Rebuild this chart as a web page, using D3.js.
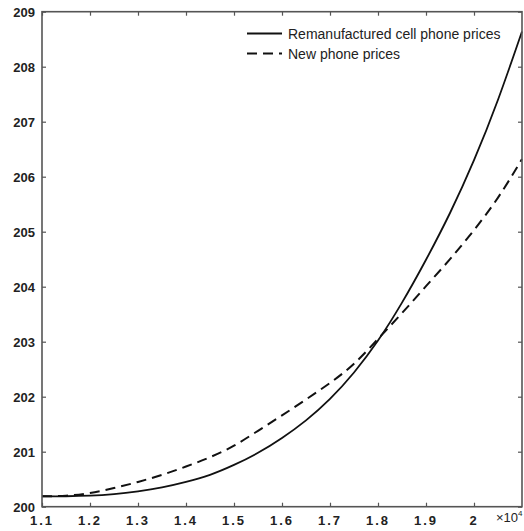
<!DOCTYPE html>
<html>
<head>
<meta charset="utf-8">
<script src="https://cdn.jsdelivr.net/npm/d3@7"></script>
<style>
  body { margin: 0; background: #fff; }
  svg { display: block; }
  text { font-family: "Liberation Sans", Arial, sans-serif; fill: #222; }
</style>
</head>
<body>
<div id="chart"></div>
<script>
// x values are in units of 10^4
const xs = [1.10, 1.15, 1.20, 1.25, 1.30, 1.35, 1.40, 1.45, 1.50, 1.55, 1.60,
            1.65, 1.70, 1.75, 1.80, 1.85, 1.90, 1.95, 2.00, 2.05, 2.10];
const remanufactured = [200.19, 200.19, 200.20, 200.23, 200.28, 200.35, 200.45, 200.58, 200.76, 200.98, 201.25,
                        201.57, 201.96, 202.44, 203.02, 203.71, 204.49, 205.34, 206.30, 207.40, 208.64];
const newPhone = [200.19, 200.20, 200.25, 200.34, 200.45, 200.58, 200.73, 200.90, 201.11, 201.38, 201.66,
                  201.95, 202.25, 202.60, 203.05, 203.52, 204.01, 204.50, 205.03, 205.62, 206.32];
const xTicks = [1.1, 1.2, 1.3, 1.4, 1.5, 1.6, 1.7, 1.8, 1.9, 2.0];
const yTicks = [200, 201, 202, 203, 204, 205, 206, 207, 208, 209];
const legendLabels = ["Remanufactured cell phone prices", "New phone prices"];

const width = 524, height = 531;
const pLeft = 42, pRight = 522, pTop = 11.7, pBottom = 506.7;

const svg = d3.select("#chart").append("svg")
    .attr("width", width)
    .attr("height", height);

const x = d3.scaleLinear().domain([1.1, 2.1]).range([pLeft, pRight]);
const y = d3.scaleLinear().domain([200, 209]).range([pBottom, pTop]);

// curves
const line = d3.line()
    .x((d, i) => x(xs[i]))
    .y(d => y(d))
    .curve(d3.curveNatural);

svg.append("path")
    .datum(remanufactured)
    .attr("d", line)
    .attr("fill", "none")
    .attr("stroke", "#111")
    .attr("stroke-width", 1.8);

svg.append("path")
    .datum(newPhone)
    .attr("d", line)
    .attr("fill", "none")
    .attr("stroke", "#111")
    .attr("stroke-width", 2)
    .attr("stroke-dasharray", "10,6");

// ticks pointing inward on all four sides
const tickLen = 4;
const tickColor = "#555";
svg.append("g").call(d3.axisBottom(x).tickValues(xTicks).tickSize(-tickLen).tickFormat(""))
    .attr("transform", `translate(0,${pBottom})`);
svg.append("g").call(d3.axisTop(x).tickValues(xTicks).tickSize(-tickLen).tickFormat(""))
    .attr("transform", `translate(0,${pTop})`);
svg.append("g").call(d3.axisLeft(y).tickValues(yTicks).tickSize(-tickLen).tickFormat(""))
    .attr("transform", `translate(${pLeft},0)`);
svg.append("g").call(d3.axisRight(y).tickValues(yTicks).tickSize(-tickLen).tickFormat(""))
    .attr("transform", `translate(${pRight},0)`);
svg.selectAll(".domain").remove();
svg.selectAll(".tick line").attr("stroke", tickColor).attr("stroke-width", 1.2);

// frame
svg.append("rect")
    .attr("x", pLeft).attr("y", pTop)
    .attr("width", pRight - pLeft).attr("height", pBottom - pTop)
    .attr("fill", "none")
    .attr("stroke", "#555")
    .attr("stroke-width", 1.6);

// tick labels
svg.append("g").selectAll("text")
    .data(yTicks)
    .join("text")
    .attr("x", 35)
    .attr("y", d => y(d) + 5)
    .attr("text-anchor", "end")
    .attr("font-size", 13)
    .attr("font-weight", "bold")
    .text(d => d);

svg.append("g").selectAll("text")
    .data(xTicks)
    .join("text")
    .attr("x", d => x(d))
    .attr("y", 525)
    .attr("text-anchor", "middle")
    .attr("font-size", 13)
    .attr("font-weight", "bold")
    .attr("letter-spacing", 2)
    .text(d => d3.format("")(d));

const mult = svg.append("text")
    .attr("x", 496)
    .attr("y", 522)
    .attr("font-size", 13);
mult.append("tspan").text("\u00d710");
mult.append("tspan").attr("dy", -6).attr("font-size", 8).text("4");

// legend
const legend = svg.append("g");
legendLabels.forEach((lab, i) => {
    const ly = 33.5 + i * 20;
    legend.append("line")
        .attr("x1", 247).attr("x2", 282)
        .attr("y1", ly).attr("y2", ly)
        .attr("stroke", "#111")
        .attr("stroke-width", 2)
        .attr("stroke-dasharray", i === 1 ? "10,6" : null);
    legend.append("text")
        .attr("x", 288)
        .attr("y", ly + 5)
        .attr("font-size", 14)
        .text(lab);
});
</script>
</body>
</html>
